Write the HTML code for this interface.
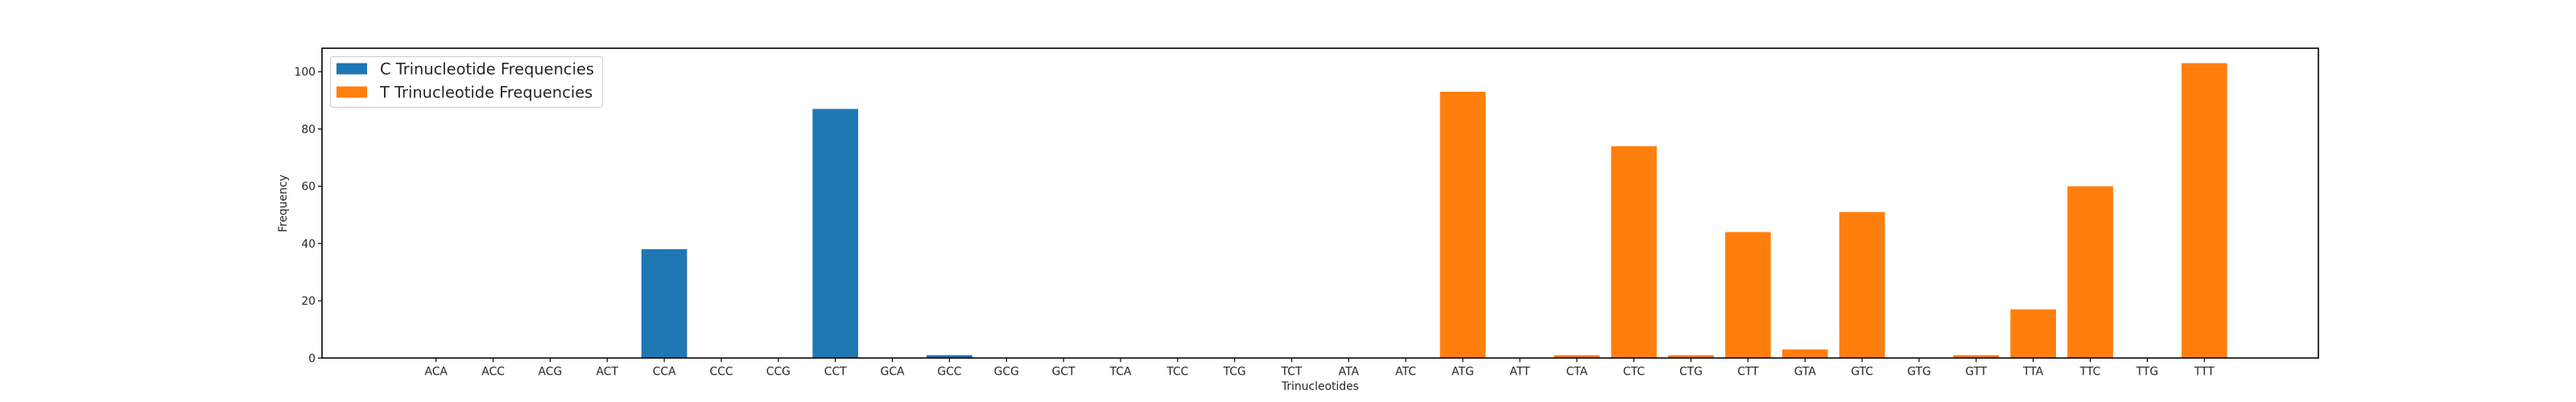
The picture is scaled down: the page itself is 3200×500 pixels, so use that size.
<!DOCTYPE html>
<html><head><meta charset="utf-8"><style>
html,body{margin:0;padding:0;background:#fff;width:3200px;height:500px;overflow:hidden}
svg text{font-family:"DejaVu Sans","Liberation Sans",sans-serif;fill:#262626}
</style></head><body>
<svg id="chart" width="3200" height="500" xmlns="http://www.w3.org/2000/svg"></svg>
<script>
const categories=["ACA","ACC","ACG","ACT","CCA","CCC","CCG","CCT","GCA","GCC","GCG","GCT","TCA","TCC","TCG","TCT","ATA","ATC","ATG","ATT","CTA","CTC","CTG","CTT","GTA","GTC","GTG","GTT","TTA","TTC","TTG","TTT"];
const cCategories=["ACA","ACC","ACG","ACT","CCA","CCC","CCG","CCT","GCA","GCC","GCG","GCT","TCA","TCC","TCG","TCT"];
const cValues=[0,0,0,0,38,0,0,87,0,1,0,0,0,0,0,0];
const tCategories=["ATA","ATC","ATG","ATT","CTA","CTC","CTG","CTT","GTA","GTC","GTG","GTT","TTA","TTC","TTG","TTT"];
const tValues=[0,0,93,0,1,74,1,44,3,51,0,1,17,60,0,103];
const yTicks=[0,20,40,60,80,100];
const seriesNames=["C Trinucleotide Frequencies","T Trinucleotide Frequencies"];

const NS="http://www.w3.org/2000/svg";
const svg=document.getElementById('chart');
const L=400,R=2880,T=60,B=445.3;
const xMin=-2,xMax=33,yMin=0,yMax=108.2;
function xs(i){return L+(i-xMin)/(xMax-xMin)*(R-L);}
function ys(v){return B-(v-yMin)/(yMax-yMin)*(B-T);}
function mk(tag,attrs,parent){const e=document.createElementNS(NS,tag);for(const k in attrs)e.setAttribute(k,attrs[k]);(parent||svg).appendChild(e);return e;}

const barW=0.8;
function drawSeries(cats,vals,color,name){
  const g=mk('g',{});
  
  
  cats.forEach((c,k)=>{
    const i=categories.indexOf(c);const v=vals[k];
    const x0=xs(i-barW/2),x1=xs(i+barW/2);
    const r=mk('rect',{x:x0,y:ys(v),width:x1-x0,height:ys(0)-ys(v),fill:color},g);
    
    
  });
}
drawSeries(cCategories,cValues,'#1f77b4','c-series');
drawSeries(tCategories,tValues,'#ff7f0e','t-series');

// axes frame
const frame=mk('rect',{x:L,y:T,width:R-L,height:B-T,fill:'none',stroke:'#000','stroke-width':1.6});



// x ticks
categories.forEach((c,i)=>{
  const x=xs(i);
  mk('line',{x1:x,y1:B,x2:x,y2:B+5,stroke:'#000','stroke-width':1.2});
  const t=mk('text',{x:x,y:466.5,'font-size':'13.9','text-anchor':'middle'});
  t.textContent=c;
  
  
});
// y ticks
yTicks.forEach(v=>{
  const y=ys(v);
  mk('line',{x1:L-5,y1:y,x2:L,y2:y,stroke:'#000','stroke-width':1.2});
  const t=mk('text',{x:L-8,y:y+5,'font-size':'13.9','text-anchor':'end'});
  t.textContent=v;
  
  
});
const xl=mk('text',{x:(L+R)/2,y:485,'font-size':'13.9','text-anchor':'middle'});
xl.textContent='Trinucleotides';


const yl=mk('text',{x:0,y:0,'font-size':'13.9','text-anchor':'middle',transform:'translate(356,253) rotate(-90)'});
yl.textContent='Frequency';



// legend
const lg=mk('g',{});


mk('rect',{x:410.5,y:70.5,width:338,height:63,rx:3,fill:'#fff','fill-opacity':0.8,stroke:'#ccc','stroke-width':1},lg);
const colors=['#1f77b4','#ff7f0e'];
seriesNames.forEach((n,k)=>{
  const cy=85.5+k*29;
  const e=mk('g',{},lg);
  
  
  mk('rect',{x:418,y:cy-7,width:38,height:14,fill:colors[k]},e);
  const t=mk('text',{x:472,y:cy+7,'font-size':'19.4'},e);
  t.textContent=n;
});
</script>
</body></html>
